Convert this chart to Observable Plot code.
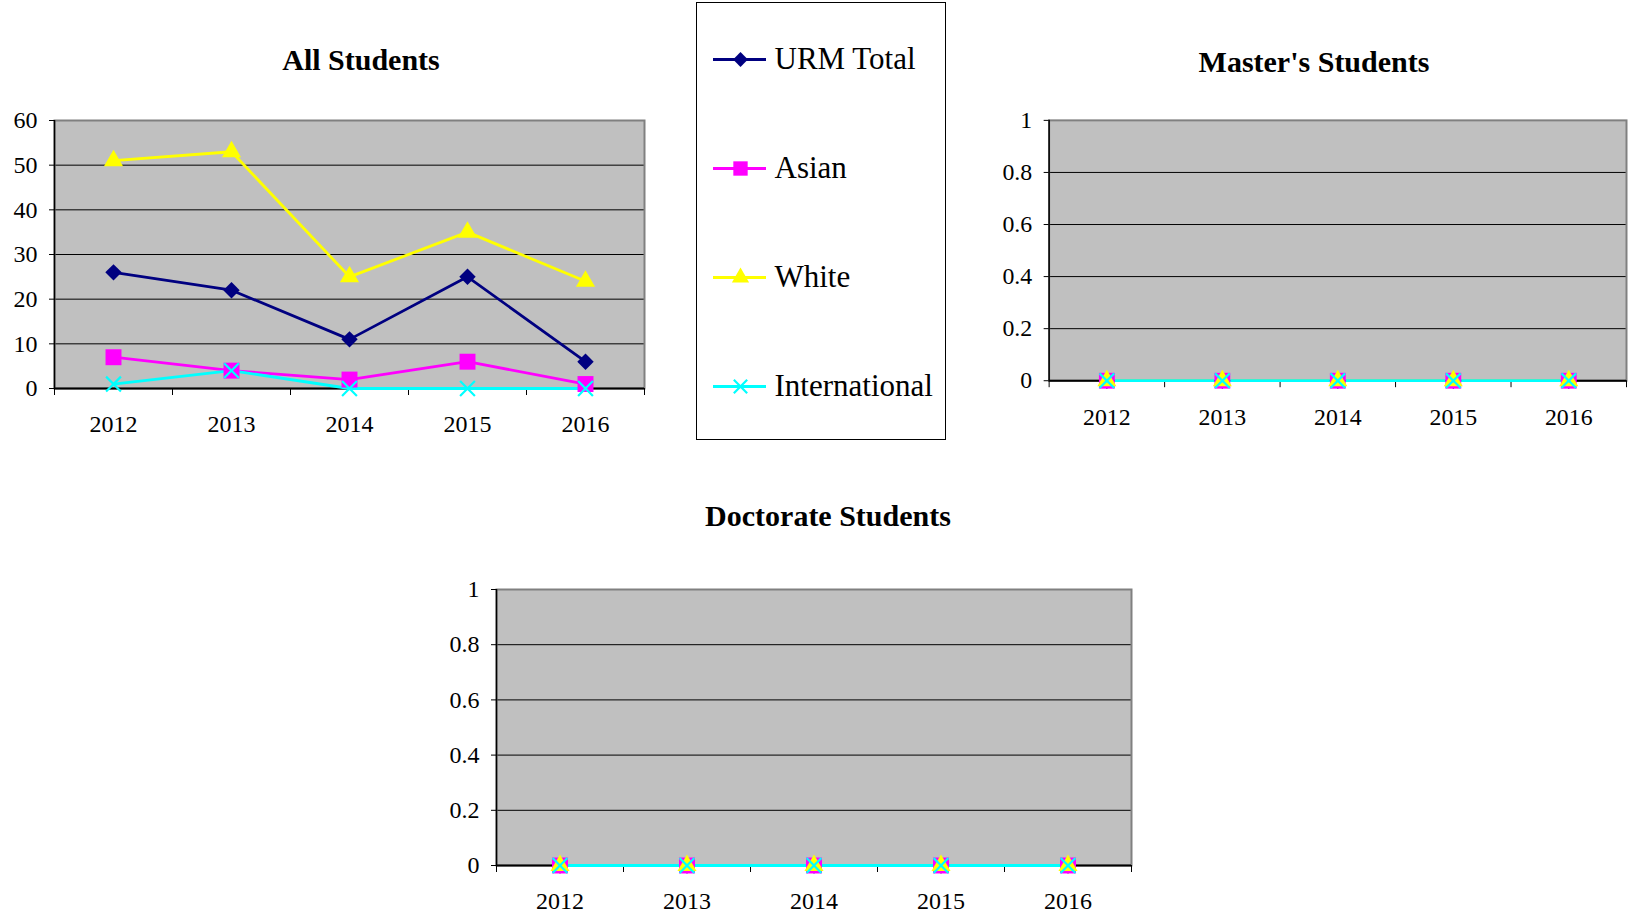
<!DOCTYPE html>
<html>
<head>
<meta charset="utf-8">
<script src="https://cdn.jsdelivr.net/npm/d3@7"></script>
<script src="https://cdn.jsdelivr.net/npm/@observablehq/plot@0.6"></script>
<style>
  html, body { margin: 0; padding: 0; background: #fff; overflow: hidden; }
  #root { position: relative; width: 1628px; height: 917px; font-family: "Liberation Serif", "DejaVu Serif", serif; }
  .title { position: absolute; transform: translate(-50%, -50%); font-weight: bold; font-size: 30px; white-space: nowrap; color: #000; }
  .panel { position: absolute; }
</style>
</head>
<body>
<div id="root"></div>
<script>
// ---- data ----
const years = [2012, 2013, 2014, 2015, 2016];
const seriesNames = ["URM Total", "Asian", "White", "International"];
const seriesColors = ["#000080", "#ff00ff", "#ffff00", "#00ffff"];
const seriesSymbols = ["diamond2", "square", "triangle", "times"];

const allURM = [26, 22, 11, 25, 6];
const allAsian = [7, 4, 2, 6, 1];
const allWhite = [51, 53, 25, 35, 24];
const allIntl = [1, 4, 0, 0, 0];

const mastersURM = [0, 0, 0, 0, 0];
const mastersAsian = [0, 0, 0, 0, 0];
const mastersWhite = [0, 0, 0, 0, 0];
const mastersIntl = [0, 0, 0, 0, 0];

const doctorateURM = [0, 0, 0, 0, 0];
const doctorateAsian = [0, 0, 0, 0, 0];
const doctorateWhite = [0, 0, 0, 0, 0];
const doctorateIntl = [0, 0, 0, 0, 0];

const allTicks = [0, 10, 20, 30, 40, 50, 60];
const fractionTicks = [0, 0.2, 0.4, 0.6, 0.8, 1];

// ---- helpers ----
const root = document.getElementById("root");
const symbolR = [7.4, 9.0, 7.1, 6.8];

function toRows(seriesValues) {
  const rows = [];
  seriesValues.forEach((vals, si) => {
    vals.forEach((v, i) => rows.push({year: years[i], series: seriesNames[si], value: v}));
  });
  return rows;
}

function dotMark(rows, si) {
  const data = rows.filter(d => d.series === seriesNames[si]);
  const isStroke = seriesSymbols[si] === "times";
  return Plot.dot(data, {
    x: "year", y: "value", symbol: () => seriesSymbols[si], r: symbolR[si],
    fill: isStroke ? "none" : seriesColors[si],
    stroke: isStroke ? seriesColors[si] : "none",
    strokeWidth: isStroke ? 2.2 : 0
  });
}

function makeChart(seriesValues, yTicks, fmt, opts) {
  const rows = toRows(seriesValues);
  const yMax = yTicks[yTicks.length - 1];
  const xMin = years[0] - 0.5, xMax = years[years.length - 1] + 0.5;
  const bounds = d3.range(years.length + 1).map(i => xMin + i);
  const marks = [
    Plot.frame({fill: "#c0c0c0", stroke: "none"}),
    Plot.ruleY(yTicks.filter(t => t !== 0 && t !== yMax), {stroke: "#000", strokeWidth: 1}),
    Plot.frame({fill: "none", stroke: "#808080", strokeWidth: 2}),
    Plot.ruleX([xMin], {stroke: "#000", strokeWidth: 1.5}),
    Plot.ruleY([0], {stroke: "#000", strokeWidth: 2}),
    Plot.axisY(yTicks, {tickSize: 5, tickPadding: 12, tickFormat: fmt, fontSize: 24, fill: "#000", stroke: "#000", label: null}),
    Plot.axisX(bounds, {tickSize: 7, tickFormat: () => "", stroke: "#000", label: null}),
    Plot.axisX(years, {tickSize: 0, tickPadding: opts.xPad, tickFormat: d => String(d), fontSize: 24, fill: "#000", label: null})
  ];
  seriesNames.forEach((name, si) => {
    marks.push(Plot.line(rows.filter(d => d.series === name), {
      x: "year", y: "value", stroke: seriesColors[si], strokeWidth: 2.8
    }));
  });
  seriesNames.forEach((name, si) => marks.push(dotMark(rows, si)));

  const svg = Plot.plot({
    width: opts.width, height: opts.height,
    marginLeft: opts.marginLeft, marginRight: opts.marginRight,
    marginTop: opts.marginTop, marginBottom: opts.marginBottom,
    style: {fontFamily: "'Liberation Serif', 'DejaVu Serif', serif", fontSize: "24px", color: "#000", background: "transparent", overflow: "visible"},
    x: {type: "linear", domain: [xMin, xMax], label: null},
    y: {type: "linear", domain: [0, yMax], label: null},
    marks
  });
  const wrap = document.createElement("div");
  wrap.className = "panel";
  wrap.style.left = opts.left + "px";
  wrap.style.top = opts.top + "px";
  wrap.appendChild(svg);
  root.appendChild(wrap);
}

function addTitle(text, cx, cy) {
  const t = document.createElement("div");
  t.className = "title";
  t.textContent = text;
  t.style.left = cx + "px";
  t.style.top = cy + "px";
  root.appendChild(t);
}

const fmtAll = d => String(d);
const fmtFrac = d => String(+d.toFixed(1));

// All Students
addTitle("All Students", 361, 60);
makeChart([allURM, allAsian, allWhite, allIntl], allTicks, fmtAll,
  {left: 0, top: 100, width: 654, height: 338, marginLeft: 54, marginRight: 10, marginTop: 20, marginBottom: 50, xPad: 26});

// Master's Students
addTitle("Master's Students", 1314, 62);
makeChart([mastersURM, mastersAsian, mastersWhite, mastersIntl], fractionTicks, fmtFrac,
  {left: 990, top: 100, width: 642, height: 332, marginLeft: 59, marginRight: 2, marginTop: 20, marginBottom: 50, xPad: 28});

// Doctorate Students
addTitle("Doctorate Students", 828, 516);
makeChart([doctorateURM, doctorateAsian, doctorateWhite, doctorateIntl], fractionTicks, fmtFrac,
  {left: 430, top: 569, width: 711, height: 346, marginLeft: 66, marginRight: 10, marginTop: 20, marginBottom: 50, xPad: 26});

// Legend
(function () {
  const lw = 249, lh = 437;
  const lineX1 = 17 / lw, lineX2 = 70 / lw, markX = 44 / lw, textX = 78 / lw;
  const leg = seriesNames.map((name, si) => ({name, si}));
  const marks = [
    Plot.frame({fill: "#fff", stroke: "#000", strokeWidth: 1}),
    Plot.ruleY(leg, {y: "name", x1: lineX1, x2: lineX2, stroke: d => seriesColors[d.si], strokeWidth: 2.8}),
    ...leg.map(d => Plot.dot([d], {
      x: markX, y: "name", symbol: () => seriesSymbols[d.si], r: symbolR[d.si] * 0.9,
      fill: seriesSymbols[d.si] === "times" ? "none" : seriesColors[d.si],
      stroke: seriesSymbols[d.si] === "times" ? seriesColors[d.si] : "none",
      strokeWidth: seriesSymbols[d.si] === "times" ? 2.2 : 0
    })),
    Plot.text(leg, {x: textX, y: "name", text: "name", textAnchor: "start", fontSize: 31, fill: "#000"})
  ];
  const svg = Plot.plot({
    width: lw, height: lh, margin: 0,
    style: {fontFamily: "'Liberation Serif', 'DejaVu Serif', serif", background: "transparent", overflow: "visible"},
    x: {type: "linear", domain: [0, 1], range: [0, lw], axis: null},
    y: {type: "point", domain: seriesNames, range: [56, 384], padding: 0, axis: null},
    marks
  });
  const wrap = document.createElement("div");
  wrap.className = "panel";
  wrap.style.left = "696px";
  wrap.style.top = "2px";
  wrap.appendChild(svg);
  root.appendChild(wrap);
})();
</script>
</body>
</html>
